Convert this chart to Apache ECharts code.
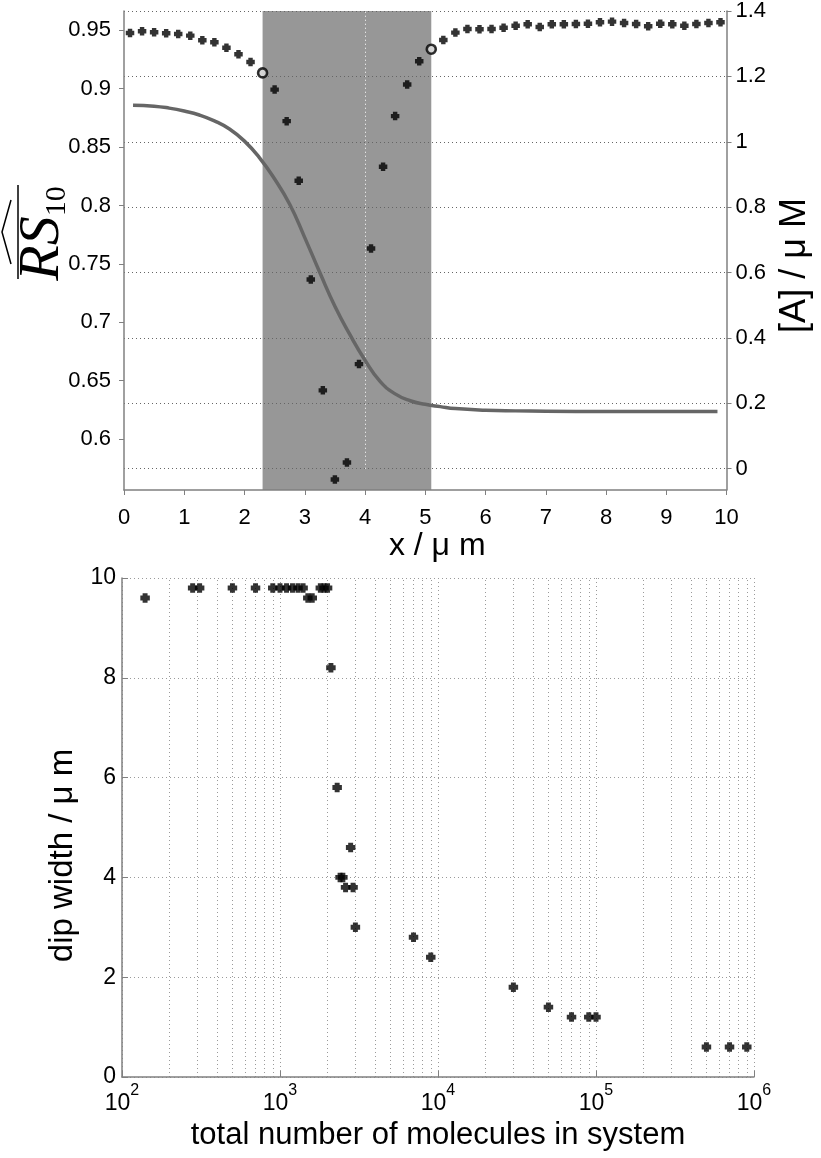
<!DOCTYPE html>
<html><head><meta charset="utf-8">
<script src="https://cdn.jsdelivr.net/npm/echarts@6/dist/echarts.min.js"></script>
<style>html,body{margin:0;padding:0;background:#fff}#c{width:821px;height:1158px}</style>
</head><body><div id="c"></div>
<script>
// ---------- top panel data ----------
const posX = [0.1,0.3,0.5,0.7,0.9,1.1,1.3,1.5,1.7,1.9,2.1,2.3,2.5,2.7,2.9,3.1,3.3,3.5,3.7,3.9,
              4.1,4.3,4.5,4.7,4.9,5.1,5.3,5.5,5.7,5.9,6.1,6.3,6.5,6.7,6.9,7.1,7.3,7.5,7.7,7.9,
              8.1,8.3,8.5,8.7,8.9,9.1,9.3,9.5,9.7,9.9];
const rsMean = [0.9477,0.9491,0.9483,0.9474,0.9468,0.9454,0.9415,0.9397,0.9351,0.9295,
                0.9229,0.9135,0.8992,0.8722,0.8212,0.7366,0.6417,0.5654,0.5799,0.6642,
                0.7631,0.8332,0.8765,0.9035,0.9235,0.9338,0.9417,0.9480,0.9511,0.9509,
                0.9511,0.9522,0.9539,0.9551,0.9528,0.9551,0.9551,0.9554,0.9556,0.9568,
                0.9574,0.9562,0.9554,0.9534,0.9556,0.9551,0.9539,0.9554,0.9562,0.9568];
const boundaryX = [2.3, 5.1];
const boundaryY = [0.9135, 0.9338];
const bandRange = [2.3, 5.1];
const concX = [0.15,0.5,0.75,1.0,1.25,1.5,1.75,2.0,2.25,2.5,2.75,3.0,3.25,3.5,3.75,4.0,
               4.25,4.5,4.75,5.0,5.25,5.5,6.0,6.5,7.0,8.0,9.0,9.85];
const concA = [1.112,1.109,1.103,1.094,1.082,1.064,1.039,1.002,0.951,0.886,0.809,0.707,
               0.600,0.497,0.410,0.332,0.267,0.229,0.208,0.197,0.190,0.184,0.179,0.177,
               0.176,0.175,0.175,0.175];
const leftTicks = [0.6,0.65,0.7,0.75,0.8,0.85,0.9,0.95];
const rightTicks = [0,0.2,0.4,0.6,0.8,1.0,1.2,1.4];
const vGridTop = [4];

// ---------- bottom panel data ----------
const molecules = [140,280,310,500,700,900,1000,1100,1200,1300,1400,1500,1600,1800,1900,2000,
                   2100,2300,2400,2500,2600,2800,2900,3000,7000,9000,30000,50000,70000,90000,100000,
                   500000,700000,900000];
const dipWidth = [9.6,9.8,9.8,9.8,9.8,9.8,9.8,9.8,9.8,9.8,9.8,9.6,9.6,9.8,9.8,9.8,
                  8.2,5.8,4.0,4.0,3.8,4.6,3.8,3.0,2.8,2.4,1.8,1.4,1.2,1.2,1.2,
                  0.6,0.6,0.6];
const logMinorGrid = [200,300,400,500,600,700,800,900,
                      2000,3000,4000,5000,6000,7000,8000,9000,
                      20000,30000,40000,50000,60000,70000,80000,90000,
                      200000,300000,400000,500000,600000,700000,800000,900000];

const FONT = '"Liberation Sans", Arial, Helvetica, sans-serif';
const SERIF = '"Liberation Serif", "DejaVu Serif", serif';
const AXIS_GRAY = '#808080';
const plusPath = 'path://M2.4,0H7.6V2.4H10V7.6H7.6V10H2.4V7.6H0V2.4H2.4Z';
const gridDot = {color:'#666', type:[1,3], width:1};
const gridDotB = {color:'#9a9a9a', type:[1,3], width:1};

const chart = echarts.init(document.getElementById('c'), null, {renderer:'canvas'});
const option = {
  animation: false,
  grid: [
    {left:124, right:87, top:10, height:480},
    {left:122, right:67, top:578, height:499}
  ],
  xAxis: [
    {gridIndex:0, type:'value', min:0, max:10, interval:1, z:3,
     axisLine:{show:true, onZero:false, lineStyle:{color:AXIS_GRAY, width:1.5}},
     axisTick:{show:true, length:5, lineStyle:{color:AXIS_GRAY}},
     axisLabel:{color:'#000', fontSize:22, fontFamily:FONT, margin:17},
     splitLine:{show:false},
     name:'x / μ m', nameLocation:'middle', nameGap:37,
     nameTextStyle:{fontSize:32, fontFamily:FONT, color:'#000', padding:[0,0,0,24]}},
    {gridIndex:1, type:'log', logBase:10, min:100, max:1000000, z:3,
     axisLine:{show:true, onZero:false, lineStyle:{color:AXIS_GRAY, width:1.5}},
     axisTick:{show:true, inside:true, length:6, lineStyle:{color:AXIS_GRAY}},
     axisLabel:{margin:6, formatter: v => '{b|10}{s|' + Math.round(Math.log10(v)) + '}',
       rich:{
         b:{fontSize:23, fontFamily:FONT, color:'#000', lineHeight:32, verticalAlign:'bottom'},
         s:{fontSize:16, fontFamily:FONT, color:'#000', lineHeight:16, verticalAlign:'top'}
       }},
     splitLine:{show:true, lineStyle:gridDotB},
     name:'total number of molecules in system', nameLocation:'middle', nameGap:43,
     nameTextStyle:{fontSize:31, fontFamily:FONT, color:'#000'}}
  ],
  yAxis: [
    {gridIndex:0, type:'value', min:0.5564, max:0.9665, position:'left', z:3,
     axisLine:{show:true, onZero:false, lineStyle:{color:AXIS_GRAY, width:1.5}},
     axisTick:{show:true, length:5, customValues:leftTicks, lineStyle:{color:AXIS_GRAY}},
     axisLabel:{customValues:leftTicks, color:'#000', fontSize:22, fontFamily:FONT, margin:13,
       formatter: v => String(+v.toFixed(2))},
     splitLine:{show:false}},
    {gridIndex:0, type:'value', min:-0.065, max:1.4, position:'right', z:3,
     axisLine:{show:true, onZero:false, lineStyle:{color:AXIS_GRAY, width:1.5}},
     axisTick:{show:true, length:5, customValues:rightTicks, lineStyle:{color:AXIS_GRAY}},
     axisLabel:{customValues:rightTicks, color:'#000', fontSize:22, fontFamily:FONT, margin:9,
       formatter: v => String(+v.toFixed(1))},
     splitLine:{show:true, lineStyle:gridDot},
     name:'[A] / μ M', nameLocation:'middle', nameRotate:90, nameGap:44,
     nameTextStyle:{fontSize:36, fontFamily:FONT, color:'#000', padding:[0,30,0,0]}},
    {gridIndex:1, type:'value', min:0, max:10, interval:2, z:3,
     axisLine:{show:true, onZero:false, lineStyle:{color:AXIS_GRAY, width:1.5}},
     axisTick:{show:true, inside:true, length:6, lineStyle:{color:AXIS_GRAY}},
     axisLabel:{color:'#000', fontSize:23, fontFamily:FONT, margin:6},
     splitLine:{show:true, lineStyle:gridDotB},
     name:'dip width / μ m', nameLocation:'middle', nameRotate:90, nameGap:42,
     nameTextStyle:{fontSize:33, fontFamily:FONT, color:'#000', padding:[0,56,0,0]}}
  ],
  graphic: [{
    type:'group', x:40, y:232, rotation:Math.PI/2,
    children:[
      {type:'text', x:-1.5, y:2,
       style:{text:'{r|RS}{s|10}', align:'center', textAlign:'center', verticalAlign:'middle', textVerticalAlign:'middle',
         rich:{
           r:{fontFamily:SERIF, fontStyle:'italic', fontSize:58, lineHeight:60, verticalAlign:'bottom', fill:'#000', color:'#000'},
           s:{fontFamily:SERIF, fontSize:30, lineHeight:42, verticalAlign:'bottom', fill:'#000', color:'#000'}
         }}},
      {type:'line', shape:{x1:-47, y1:-22, x2:47, y2:-22}, style:{stroke:'#000', lineWidth:1.5}},
      {type:'polyline', shape:{points:[[-32,-29],[0,-38],[32,-29]]}, style:{stroke:'#000', lineWidth:1.5, fill:null}}
    ]
  }],
  series: [
    {name:'band', type:'custom', xAxisIndex:0, yAxisIndex:1, z:1, silent:true,
     data:[[bandRange[0], bandRange[1]]],
     encode:{x:[0,1]},
     renderItem:(params, api) => {
       const cs = params.coordSys;
       const x0 = api.coord([api.value(0), 0])[0];
       const x1 = api.coord([api.value(1), 0])[0];
       return {type:'rect', shape:{x:x0, y:cs.y, width:x1-x0, height:cs.height},
               style:{fill:'#979797'}};
     },
     markLine:{silent:true, z:2, symbol:['none','none'], label:{show:false},
       lineStyle:{color:'#ffffff', type:[1,3], width:1},
       emphasis:{disabled:true},
       data: vGridTop.map(v => [{coord:[v, rightTicks[0]]}, {coord:[v, rightTicks[rightTicks.length-1]]}])}
    },
    {name:'[A]', type:'line', xAxisIndex:0, yAxisIndex:1, z:4, smooth:true,
     showSymbol:false, silent:true,
     lineStyle:{color:'#666666', width:3.5},
     data: concX.map((x,i) => [x, concA[i]])},
    {name:'RS10', type:'scatter', xAxisIndex:0, yAxisIndex:0, z:5,
     symbol:plusPath, symbolSize:8.5, itemStyle:{color:'#000'},
     data: posX.map((x,i) => [x, rsMean[i]])},
    {name:'boundary', type:'scatter', xAxisIndex:0, yAxisIndex:0, z:6,
     symbol:'circle', symbolSize:9, itemStyle:{color:'#fff', borderColor:'#000', borderWidth:2.6},
     data: boundaryX.map((x,i) => [x, boundaryY[i]])},
    {name:'dip width', type:'scatter', xAxisIndex:1, yAxisIndex:2, z:5,
     symbol:plusPath, symbolSize:9.5, itemStyle:{color:'#000'},
     data: molecules.map((m,i) => [m, dipWidth[i]]),
     markLine:{silent:true, z:1, symbol:['none','none'], label:{show:false},
       lineStyle:gridDotB, emphasis:{disabled:true},
       data: logMinorGrid.map(v => ({xAxis:v}))}
    }
  ]
};
chart.setOption(option);
</script></body></html>
